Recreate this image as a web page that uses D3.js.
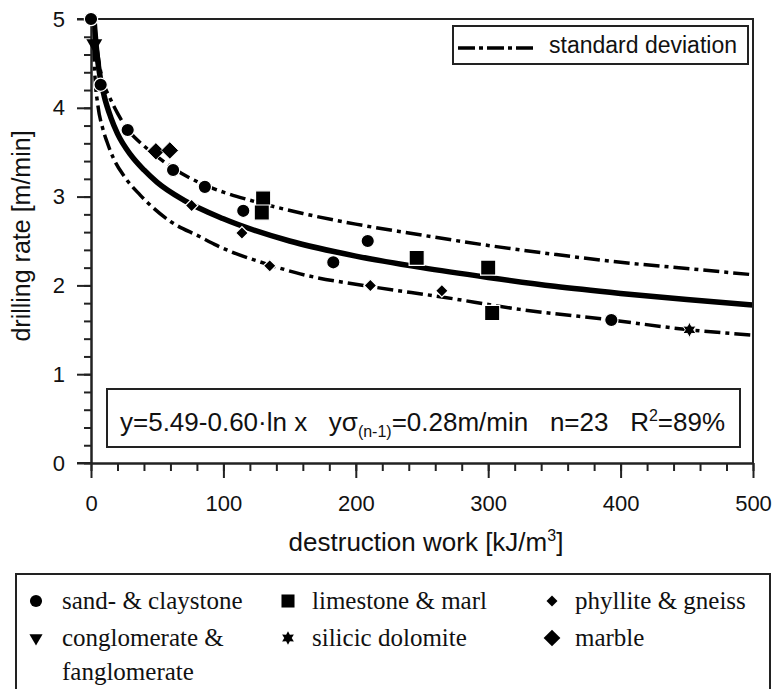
<!DOCTYPE html>
<html>
<head>
<meta charset="utf-8">
<script src="https://cdn.jsdelivr.net/npm/d3@7"></script>
<style>
  body { margin: 0; background: #fff; }
  svg { display: block; }
</style>
</head>
<body>
<svg id="chart" width="779" height="689"></svg>
<script>
// measured points, [destruction work, drilling rate]
const sandClay = [[0, 5.0], [7.3, 4.26], [27.7, 3.75], [62, 3.30], [86, 3.11], [115, 2.84], [209, 2.50], [183, 2.26], [393, 1.61]];
const limestoneMarl = [[130, 2.98], [129, 2.82], [246, 2.31], [300, 2.20], [303, 1.69]];
const phylliteGneiss = [[76, 2.90], [114, 2.59], [135, 2.22], [211, 2.00], [265, 1.94]];
const conglomerate = [[2.5, 4.72]];
const silicicDolomite = [[452, 1.50]];
const marble = [[49, 3.51], [59.5, 3.52]];

// regression line and +/- standard deviation
const fitCurve = [[2.4, 4.97], [3, 4.85], [5, 4.54], [7, 4.34], [10, 4.13], [15, 3.89], [20, 3.71], [30, 3.47], [40, 3.30], [50, 3.16], [70, 2.96], [100, 2.75], [150, 2.50], [200, 2.33], [250, 2.20], [300, 2.09], [350, 1.99], [400, 1.91], [450, 1.84], [500, 1.78]];
const upperCurve = [[2.6, 5.0], [4, 4.75], [6, 4.52], [9, 4.30], [14, 4.12], [20, 3.94], [27, 3.77], [40, 3.57], [50, 3.45], [62, 3.32], [86, 3.13], [100, 3.05], [120, 2.96], [160, 2.81], [200, 2.69], [240, 2.59], [300, 2.45], [350, 2.35], [400, 2.26], [450, 2.19], [500, 2.12]];
const lowerCurve = [[2, 4.70], [3, 4.35], [5, 4.05], [9, 3.76], [12, 3.62], [17, 3.43], [25, 3.23], [37, 3.02], [60, 2.72], [82, 2.55], [95, 2.45], [135, 2.23], [158, 2.13], [210, 1.99], [265, 1.87], [324, 1.73], [393, 1.61], [452, 1.50], [500, 1.44]];

const xTicks = [0, 100, 200, 300, 400, 500];
const yTicks = [0, 1, 2, 3, 4, 5];
const xMinor = d3.range(0, 501, 20);
const yMinor = d3.range(0, 5.01, 0.2);

const legendItems = [
  {label: ['sand- & claystone'], type: 'circle', col: 0, row: 0},
  {label: ['limestone & marl'], type: 'square', col: 1, row: 0},
  {label: ['phyllite & gneiss'], type: 'diamond', col: 2, row: 0},
  {label: ['conglomerate &', 'fanglomerate'], type: 'triangle', col: 0, row: 1},
  {label: ['silicic dolomite'], type: 'star', col: 1, row: 1},
  {label: ['marble'], type: 'marble', col: 2, row: 1}
];

const SANS = '"Liberation Sans", Arial, sans-serif';
const SERIF = '"Liberation Serif", "Times New Roman", serif';
const INK = '#111';

const svg = d3.select('#chart');
const x = d3.scaleLinear().domain([0, 500]).range([91, 753]);
const y = d3.scaleLinear().domain([0, 5]).range([463, 19]);

// six pointed star
const star6 = {
  draw(ctx, size) {
    const R = Math.sqrt(size) * 0.62, r = R * 0.55;
    for (let i = 0; i < 12; i++) {
      const a = Math.PI / 6 * i - Math.PI / 2;
      const rr = i % 2 ? r : R;
      i ? ctx.lineTo(rr * Math.cos(a), rr * Math.sin(a)) : ctx.moveTo(rr * Math.cos(a), rr * Math.sin(a));
    }
    ctx.closePath();
  }
};

const symbolDefs = {
  circle:   {type: d3.symbolCircle, size: 140, rot: 0, halo: 1.2},
  square:   {type: d3.symbolSquare, size: 230, rot: 0, halo: 1.2},
  diamond:  {type: d3.symbolSquare, size: 80, rot: 45, halo: 1.2},
  triangle: {type: d3.symbolTriangle, size: 110, rot: 180, halo: 0},
  star:     {type: star6, size: 150, rot: 0, halo: 1},
  marble:   {type: d3.symbolSquare, size: 150, rot: 45, halo: 0.8}
};

// clip to plot frame
svg.append('clipPath').attr('id', 'plotclip')
  .append('rect').attr('x', 91).attr('y', 19).attr('width', 662).attr('height', 444);

const line = d3.line().x(d => x(d[0])).y(d => y(d[1])).curve(d3.curveMonotoneX);
const curves = svg.append('g').attr('clip-path', 'url(#plotclip)');

curves.append('path').datum(upperCurve).attr('d', line)
  .attr('fill', 'none').attr('stroke', '#000').attr('stroke-width', 3.5).attr('stroke-dasharray', '16,5,4,5');
curves.append('path').datum(lowerCurve).attr('d', line)
  .attr('fill', 'none').attr('stroke', '#000').attr('stroke-width', 3.5).attr('stroke-dasharray', '16,5,4,5');
curves.append('path').datum(fitCurve).attr('d', line)
  .attr('fill', 'none').attr('stroke', '#000').attr('stroke-width', 5.5);

// axes
svg.append('g').attr('transform', 'translate(91,0)')
  .call(d3.axisLeft(y).tickValues(yTicks).tickSize(14).tickSizeOuter(0).tickPadding(12).tickFormat(d3.format('d')));
svg.append('g').attr('transform', 'translate(91,0)')
  .call(d3.axisLeft(y).tickValues(yMinor).tickSize(7).tickSizeOuter(0).tickFormat(''));
svg.append('g').attr('transform', 'translate(0,463)')
  .call(d3.axisBottom(x).tickValues(xTicks).tickSize(15).tickSizeOuter(0).tickPadding(17).tickFormat(d3.format('d')));
svg.append('g').attr('transform', 'translate(0,463)')
  .call(d3.axisBottom(x).tickValues(xMinor).tickSize(8).tickSizeOuter(0).tickFormat(''));

svg.selectAll('.domain, .tick line').attr('stroke', '#222').attr('stroke-width', 2);
svg.selectAll('.tick text').attr('font-family', SANS).attr('font-size', 22).attr('fill', INK);

// frame top and right
svg.append('line').attr('x1', 77).attr('x2', 754).attr('y1', y(5)).attr('y2', y(5)).attr('stroke', '#222').attr('stroke-width', 2);
svg.append('line').attr('x1', x(500)).attr('x2', x(500)).attr('y1', 18).attr('y2', 464).attr('stroke', '#222').attr('stroke-width', 2);
svg.append('line').attr('x1', 77).attr('x2', 91).attr('y1', 463).attr('y2', 463).attr('stroke', '#222').attr('stroke-width', 2);

// axis titles
svg.append('text').attr('transform', 'translate(30,236) rotate(-90)')
  .attr('text-anchor', 'middle').attr('font-family', SANS).attr('font-size', 25).attr('fill', INK)
  .text('drilling rate [m/min]');
const xt = svg.append('text').attr('x', 426).attr('y', 551)
  .attr('text-anchor', 'middle').attr('font-family', SANS).attr('font-size', 26).attr('fill', INK);
xt.append('tspan').text('destruction work [kJ/m');
xt.append('tspan').attr('font-size', 16).attr('dy', -10).text('3');
xt.append('tspan').attr('dy', 10).text(']');

// data markers
const markerSets = [
  [sandClay, 'circle'], [limestoneMarl, 'square'], [phylliteGneiss, 'diamond'],
  [conglomerate, 'triangle'], [silicicDolomite, 'star'], [marble, 'marble']
];
const markers = svg.append('g');
markerSets.forEach(([pts, key]) => {
  const s = symbolDefs[key];
  markers.selectAll(null).data(pts).join('path')
    .attr('transform', d => `translate(${x(d[0])},${y(d[1])}) rotate(${s.rot})`)
    .attr('d', d3.symbol().type(s.type).size(s.size))
    .attr('fill', '#000').attr('stroke', s.halo ? '#fff' : 'none').attr('stroke-width', s.halo);
});

// standard deviation key
svg.append('rect').attr('x', 453).attr('y', 26).attr('width', 295).attr('height', 38)
  .attr('fill', '#fff').attr('stroke', '#222').attr('stroke-width', 2);
svg.append('line').attr('x1', 458).attr('x2', 534).attr('y1', 48).attr('y2', 48)
  .attr('stroke', '#000').attr('stroke-width', 3.5).attr('stroke-dasharray', '17,4,4,4');
svg.append('text').attr('x', 549).attr('y', 53).attr('font-family', SANS).attr('font-size', 23).attr('fill', INK)
  .text('standard deviation');

// regression box
svg.append('rect').attr('x', 107).attr('y', 389).attr('width', 633).attr('height', 58)
  .attr('fill', '#fff').attr('stroke', '#222').attr('stroke-width', 2);
const eq = svg.append('text').attr('x', 120).attr('y', 431).attr('font-family', SANS).attr('font-size', 26).attr('fill', INK)
  .attr('xml:space', 'preserve');
eq.append('tspan').text('y=5.49-0.60·ln x   yσ');
eq.append('tspan').attr('font-size', 16).attr('dy', 6).text('(n-1)');
eq.append('tspan').attr('dy', -6).text('=0.28m/min   n=23   R');
eq.append('tspan').attr('font-size', 16).attr('dy', -10).text('2');
eq.append('tspan').attr('dy', 10).text('=89%');

// category legend
svg.append('rect').attr('x', 16).attr('y', 574).attr('width', 754).attr('height', 140)
  .attr('fill', 'none').attr('stroke', '#222').attr('stroke-width', 2);
const colSym = [36, 288, 552], colText = [62, 312, 575], rowBase = [609, 646];
const legendSizes = {circle: 115, square: 170, diamond: 60, triangle: 75, star: 120, marble: 140};
const lg = svg.append('g');
legendItems.forEach(it => {
  const s = symbolDefs[it.type];
  lg.append('path')
    .attr('transform', `translate(${colSym[it.col]},${rowBase[it.row] - 8}) rotate(${s.rot})`)
    .attr('d', d3.symbol().type(s.type).size(legendSizes[it.type]))
    .attr('fill', '#000');
  it.label.forEach((t, i) => {
    lg.append('text').attr('x', colText[it.col]).attr('y', rowBase[it.row] + i * 34)
      .attr('font-family', SERIF).attr('font-size', 25).attr('fill', INK).text(t);
  });
});
</script>
</body>
</html>
